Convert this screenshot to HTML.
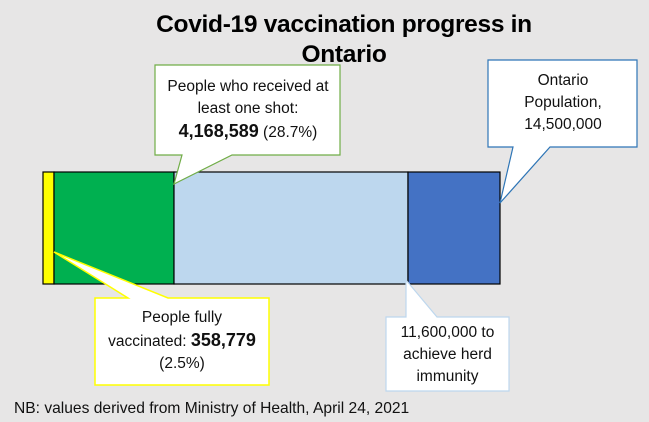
<!DOCTYPE html><html><head><style>
body{margin:0;width:649px;height:422px;background:#e7e6e6;overflow:hidden;position:relative;font-family:"Liberation Sans",sans-serif}
.t{position:absolute;left:0;width:688px;text-align:center;font-weight:bold;font-size:24.5px;color:#000;letter-spacing:-0.3px}
.c{position:absolute;text-align:center;font-size:15.5px;line-height:22px;color:#111;font-family:"Liberation Sans",sans-serif}
</style></head><body>
<div class="t" style="top:11px">Covid-19 vaccination progress in</div>
<div class="t" style="top:41px">Ontario</div>
<svg width="649" height="422" style="position:absolute;left:0;top:0">
<rect x="43" y="172" width="11" height="112" fill="#ffff00" stroke="#000" stroke-width="1.2"/>
<rect x="54" y="172" width="120" height="112" fill="#00b050" stroke="#000" stroke-width="1.2"/>
<rect x="174" y="172" width="234" height="112" fill="#bdd7ee" stroke="#000" stroke-width="1.2"/>
<rect x="408" y="172" width="92" height="112" fill="#4472c4" stroke="#000" stroke-width="1.2"/>
<path d="M155,65 H340 V155 H232 L174,184 L182,155 H155 Z" fill="#fff" stroke="#70ad47" stroke-width="1.2"/>
<path d="M488,60 H637 V147 H550 L500,203 L513,147 H488 Z" fill="#fff" stroke="#2e75b6" stroke-width="1.2"/>
<path d="M95,298 H128 L54,252 L168,298 H269 V385 H95 Z" fill="#fff" stroke="#ffff00" stroke-width="1.5"/>
<path d="M386,317 H406 V280 L437,317 H509 V391 H386 Z" fill="#fff" stroke="#bdd7ee" stroke-width="1.2"/>
</svg>
<div class="c" style="left:145px;top:76px;width:206px">People who received at<br>least one shot:<br><b style="font-size:18px">4,168,589</b> (28.7%)</div>
<div class="c" style="left:478px;top:70px;width:170px">Ontario<br>Population,<br>14,500,000</div>
<div class="c" style="left:85px;top:307px;width:194px">People fully<br>vaccinated: <b style="font-size:18px">358,779</b><br>(2.5%)</div>
<div class="c" style="left:376px;top:322px;width:143px">11,600,000 to<br>achieve herd<br>immunity</div>
<div class="c" style="left:14px;top:398px;text-align:left;font-size:15.6px">NB: values derived from Ministry of Health, April 24, 2021</div>
</body></html>
